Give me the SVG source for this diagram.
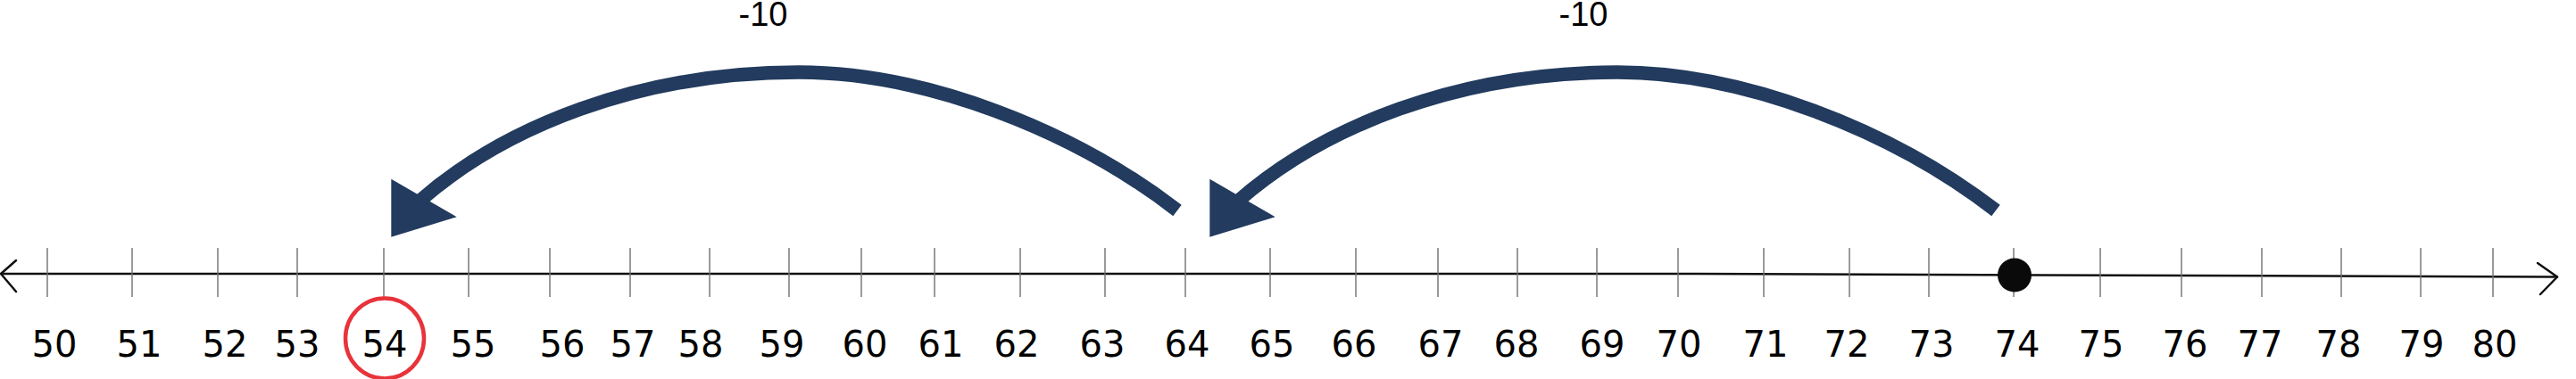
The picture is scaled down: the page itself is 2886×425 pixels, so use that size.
<svg xmlns="http://www.w3.org/2000/svg" width="2886" height="425" viewBox="0 0 2886 425">
  <style>
    .axis { fill: none; stroke: #111111; stroke-width: 2.5; stroke-linecap: round; stroke-linejoin: round; }
    .tick { stroke: #707070; stroke-width: 1.4; }
    .num { font-family: "DejaVu Sans", "Liberation Sans", sans-serif; font-size: 40px; fill: #000000; text-anchor: middle; }
    .jump-label { font-family: "Liberation Sans", "DejaVu Sans", sans-serif; font-size: 38px; fill: #000000; text-anchor: middle; }
    .band { fill: none; stroke: #223B5E; stroke-width: 15.5; stroke-linecap: butt; }
    .head { fill: #223B5E; }
  </style>
  <rect width="2886" height="425" fill="#ffffff"/>

  <g id="number-line">
    <polyline class="axis" points="1,307 1900,307 2865,310.5"/>
    <polyline class="axis" points="18,292 1,307 18,327"/>
    <polyline class="axis" points="2843,295 2865,310.5 2846,330"/>
  </g>

  <g id="ticks">
    <line class="tick" x1="53" y1="278" x2="53" y2="333"/>
    <line class="tick" x1="148" y1="278" x2="148" y2="333"/>
    <line class="tick" x1="244" y1="278" x2="244" y2="333"/>
    <line class="tick" x1="333" y1="278" x2="333" y2="333"/>
    <line class="tick" x1="430" y1="278" x2="430" y2="333"/>
    <line class="tick" x1="525" y1="278" x2="525" y2="333"/>
    <line class="tick" x1="616" y1="278" x2="616" y2="333"/>
    <line class="tick" x1="706" y1="278" x2="706" y2="333"/>
    <line class="tick" x1="795" y1="278" x2="795" y2="333"/>
    <line class="tick" x1="884" y1="278" x2="884" y2="333"/>
    <line class="tick" x1="965" y1="278" x2="965" y2="333"/>
    <line class="tick" x1="1047" y1="278" x2="1047" y2="333"/>
    <line class="tick" x1="1143" y1="278" x2="1143" y2="333"/>
    <line class="tick" x1="1238" y1="278" x2="1238" y2="333"/>
    <line class="tick" x1="1328" y1="278" x2="1328" y2="333"/>
    <line class="tick" x1="1423" y1="278" x2="1423" y2="333"/>
    <line class="tick" x1="1519" y1="278" x2="1519" y2="333"/>
    <line class="tick" x1="1611" y1="278" x2="1611" y2="333"/>
    <line class="tick" x1="1700" y1="278" x2="1700" y2="333"/>
    <line class="tick" x1="1789" y1="278" x2="1789" y2="333"/>
    <line class="tick" x1="1880" y1="278" x2="1880" y2="333"/>
    <line class="tick" x1="1976" y1="278" x2="1976" y2="333"/>
    <line class="tick" x1="2072" y1="278" x2="2072" y2="333"/>
    <line class="tick" x1="2161" y1="278" x2="2161" y2="333"/>
    <line class="tick" x1="2256" y1="278" x2="2256" y2="333"/>
    <line class="tick" x1="2353" y1="278" x2="2353" y2="333"/>
    <line class="tick" x1="2444" y1="278" x2="2444" y2="333"/>
    <line class="tick" x1="2534" y1="278" x2="2534" y2="333"/>
    <line class="tick" x1="2623" y1="278" x2="2623" y2="333"/>
    <line class="tick" x1="2712" y1="278" x2="2712" y2="333"/>
    <line class="tick" x1="2793" y1="278" x2="2793" y2="333"/>
  </g>

  <g id="labels">
    <text class="num" x="61" y="400">50</text>
    <text class="num" x="156" y="400">51</text>
    <text class="num" x="252" y="400">52</text>
    <text class="num" x="333" y="400">53</text>
    <text class="num" x="431" y="400">54</text>
    <text class="num" x="530" y="400">55</text>
    <text class="num" x="630" y="400">56</text>
    <text class="num" x="709" y="400">57</text>
    <text class="num" x="785" y="400">58</text>
    <text class="num" x="876" y="400">59</text>
    <text class="num" x="969" y="400">60</text>
    <text class="num" x="1054" y="400">61</text>
    <text class="num" x="1139" y="400">62</text>
    <text class="num" x="1235" y="400">63</text>
    <text class="num" x="1330" y="400">64</text>
    <text class="num" x="1425" y="400">65</text>
    <text class="num" x="1517" y="400">66</text>
    <text class="num" x="1614" y="400">67</text>
    <text class="num" x="1699" y="400">68</text>
    <text class="num" x="1795" y="400">69</text>
    <text class="num" x="1881" y="400">70</text>
    <text class="num" x="1978" y="400">71</text>
    <text class="num" x="2069" y="400">72</text>
    <text class="num" x="2164" y="400">73</text>
    <text class="num" x="2260" y="400">74</text>
    <text class="num" x="2354" y="400">75</text>
    <text class="num" x="2448" y="400">76</text>
    <text class="num" x="2532" y="400">77</text>
    <text class="num" x="2620" y="400">78</text>
    <text class="num" x="2713" y="400">79</text>
    <text class="num" x="2795" y="400">80</text>
  </g>

  <g id="answer-54">
    <ellipse cx="431" cy="379.5" rx="44" ry="45" fill="none" stroke="#E8333A" stroke-width="4.5"/>
  </g>

  <g id="start-74">
    <circle cx="2257" cy="308.5" r="19" fill="#0a0a0a"/>
  </g>

  <g id="connectors">
    <g id="jump-74-64">
      <path class="band" d="M2236,236 C2117.5,144.5 1952,81 1812,81 C1632,81 1481,143 1387,225.5"/>
      <polygon class="head" points="1355.3,200.7 1428.7,243.3 1355.3,265.7"/>
      <text class="jump-label" x="1774" y="29">-10</text>
    </g>
    <g id="jump-64-54">
      <path class="band" d="M1319,236 C1200.5,144.5 1035,81 895,81 C715,81 564,143 470,225.5"/>
      <polygon class="head" points="438.3,200.7 511.7,243.3 438.3,265.7"/>
      <text class="jump-label" x="855" y="29">-10</text>
    </g>
  </g>
</svg>
